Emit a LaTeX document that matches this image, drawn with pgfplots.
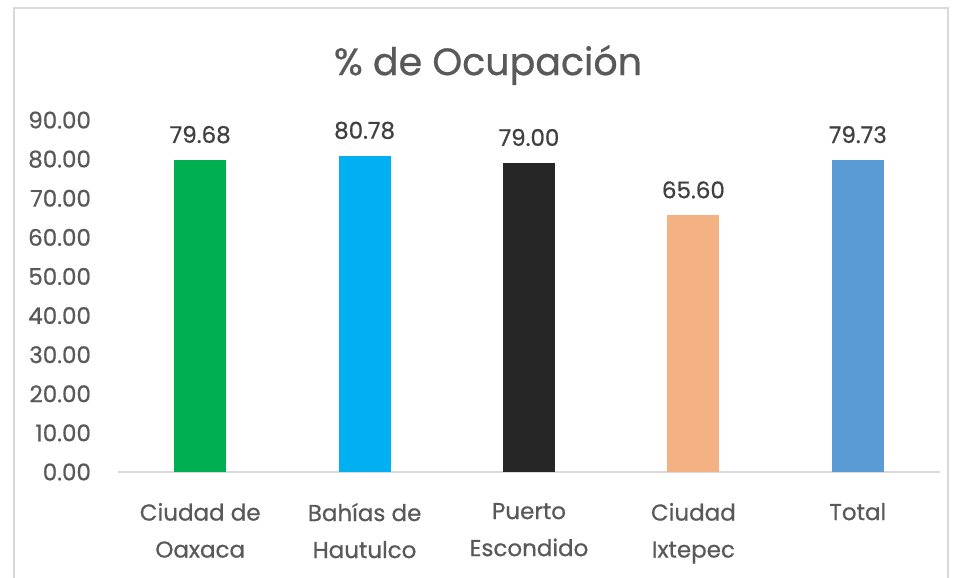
\documentclass[border=0pt]{standalone}
\usepackage{pgfplots}
\pgfplotsset{compat=1.18}
\usepackage{fontspec}
\setmainfont{Poppins}[FakeBold=0.7,AutoFakeBold=0.7]
\definecolor{txt}{HTML}{595959}
\definecolor{lab}{HTML}{404040}
\definecolor{c1}{HTML}{00B050}
\definecolor{c2}{HTML}{00B0F0}
\definecolor{c3}{HTML}{262626}
\definecolor{c4}{HTML}{F4B183}
\definecolor{c5}{HTML}{5B9BD5}
\begin{document}
\begin{tikzpicture}[x=0.5pt,y=0.5pt]
\useasboundingbox (0,0) rectangle (956,577);
\begin{scope}
\clip (0,0) rectangle (956,577);
\draw[draw=black!15,line width=1pt] (14,-10) rectangle (948,569);
\end{scope}
\node[text=txt,font=\fontsize{19}{22}\selectfont\bfseries] at (488,512) {\% de Ocupación};
\begin{axis}[
  at={(59pt,52.5pt)}, anchor=south west,
  scale only axis, width=411pt, height=195.5pt,
  xmin=-0.5, xmax=4.5, ymin=0, ymax=100,
  axis x line*=bottom, axis y line*=left,
  x axis line style={draw=black!15,line width=0.8pt},
  y axis line style={draw=none},
  major tick length=0pt,
  ytick={0,10,...,90},
  yticklabel={\pgfmathprintnumber[fixed,fixed zerofill,precision=2]{\tick}},
  /pgf/number format/assume math mode=true,
  yticklabel style={text=txt,font=\fontsize{11.5}{13}\selectfont\bfseries,xshift=-10pt},
  xtick={0,1,2,3,4},
  xticklabels={{Ciudad de\\Oaxaca},{Bahías de\\Hautulco},{Puerto\\Escondido},{Ciudad\\Ixtepec},{Total}},
  xticklabel style={text=txt,font=\fontsize{11.5}{18.5}\selectfont\bfseries,align=center,anchor=north,yshift=-12pt},
  ybar, bar width=26pt, bar shift=0pt,
  nodes near coords={\pgfmathprintnumber[fixed,fixed zerofill,precision=2]{\pgfplotspointmeta}},
  nodes near coords style={text=lab,font=\fontsize{11.5}{13}\selectfont\bfseries,yshift=5pt},
  clip=false,
]
\addplot[fill=c1,draw=none] coordinates {(0,79.68)};
\addplot[fill=c2,draw=none] coordinates {(1,80.78)};
\addplot[fill=c3,draw=none] coordinates {(2,79.00)};
\addplot[fill=c4,draw=none] coordinates {(3,65.60)};
\addplot[fill=c5,draw=none] coordinates {(4,79.73)};
\end{axis}
\end{tikzpicture}
\end{document}
